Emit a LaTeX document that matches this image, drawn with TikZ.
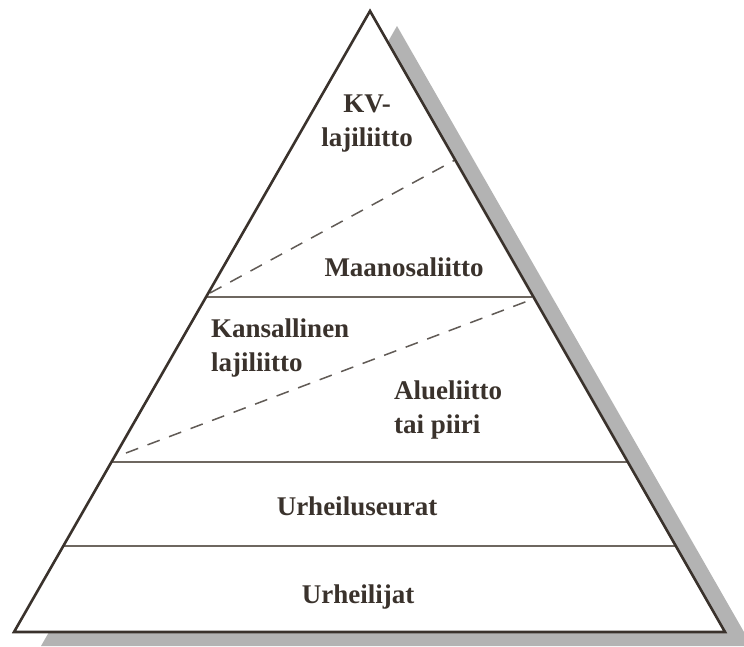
\documentclass[tikz,border=0pt]{standalone}
\usepackage{fontspec}
\setmainfont{Liberation Serif}
\definecolor{ink}{HTML}{3A322C}
\definecolor{rulegray}{HTML}{6E6760}
\definecolor{shadowgray}{HTML}{B3B3B3}
\begin{document}
\begin{tikzpicture}[x=1pt,y=-1pt,
  lbl/.style={text=ink,font=\fontsize{27}{34}\selectfont\bfseries,inner sep=0pt},
  tier/.style={draw=rulegray,line width=1.8pt},
  split/.style={draw=ink!80,line width=1.5pt,dash pattern=on 13pt off 10pt}]
\useasboundingbox (0,0) rectangle (744,646);
\begin{scope}
\clip (0,0) rectangle (744,646);
\fill[fill=shadowgray] (397,26) -- (752,646) -- (41,646) -- cycle;
\end{scope}
\coordinate (apex) at (370,11);
\coordinate (bl) at (14,632);
\coordinate (br) at (725,632);
\fill[white] (apex) -- (br) -- (bl) -- cycle;
% tier lines
\coordinate (l1) at (206,297); \coordinate (r1) at (532,297);
\coordinate (l2) at (112,462); \coordinate (r2) at (627,462);
\coordinate (l3) at (63,546);  \coordinate (r3) at (676,546);
\draw[tier] (l1) -- (r1);
\draw[tier] (l2) -- (r2);
\draw[tier] (l3) -- (r3);
% dashed splits
\coordinate (d1a) at (210,293); \coordinate (d1b) at (455,160);
\coordinate (d2a) at (126,453); \coordinate (d2b) at (533,299);
\draw[split] (d1a) -- (d1b);
\draw[split] (d2a) -- (d2b);
\draw[ink,line width=2.6pt,line join=miter] (apex) -- (br) -- (bl) -- cycle;
% labels
\node[lbl,align=center] (kv) at (367,124) {KV-\\lajiliitto};
\node[lbl] (maa) at (404,267) {Maanosaliitto};
\node[lbl,align=left,anchor=west] (kans) at (211,348) {Kansallinen\\lajiliitto};
\node[lbl,align=left,anchor=west] (alue) at (394,410) {Alueliitto\\tai piiri};
\node[lbl] (seura) at (357,506) {Urheiluseurat};
\node[lbl] (urh) at (358,597) {Urheilijat};
\end{tikzpicture}
\end{document}
